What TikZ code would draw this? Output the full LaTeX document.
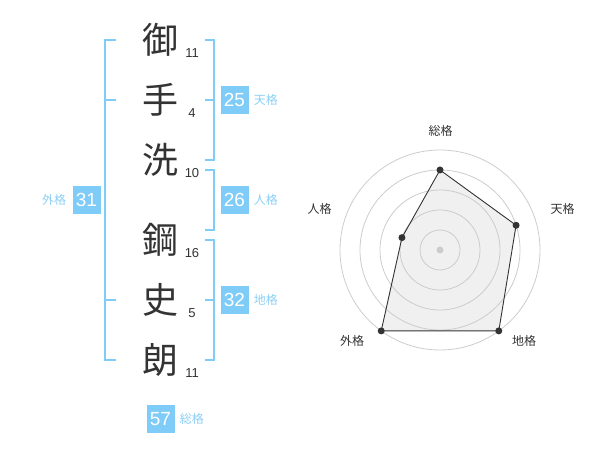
\documentclass[tikz,border=0pt]{standalone}
\usepackage{fontspec}
\setmainfont{Liberation Sans}
\newfontfamily\jpfont{Noto Sans CJK JP}
\usepackage{xcolor}
\usetikzlibrary{
		calc,
		positioning
	}
\definecolor{sky}{HTML}{80CCF8}
\definecolor{skytext}{HTML}{8CCFF5}
\definecolor{ink}{HTML}{333333}
\tikzset{
		>=stealth,
		kanji/.style={text=ink,font=\jpfont\fontsize{36}{36}\selectfont,inner sep=0pt},
		strokes/.style={text=ink,font=\fontsize{13}{13}\selectfont,inner sep=0pt},
		score/.style={fill=sky,text=white,minimum size=28pt,inner sep=0pt,font=\fontsize{19}{19}\selectfont},
		kaku/.style={text=skytext,font=\jpfont\fontsize{12}{12}\selectfont,inner sep=0pt},
		bracket/.style={draw=sky,line width=2pt},
		ring/.style={draw=black!20,line width=0.8pt},
		axislabel/.style={text=ink,font=\jpfont\fontsize{12}{12}\selectfont,inner sep=0pt},
		dot/.style={circle,fill=ink,inner sep=0pt,minimum size=7pt}
	}
\begin{document}
\begin{tikzpicture}[x=1pt,y=-1pt]
          \useasboundingbox (0,0) rectangle (600,470);

          % name and stroke counts
          \node[kanji] (K1) at (160,40) {御};
          \node[kanji] (K2) at (160,100) {手};
          \node[kanji] (K3) at (160,160) {洗};
          \node[kanji] (K4) at (160,240) {鋼};
          \node[kanji] (K5) at (160,300) {史};
          \node[kanji] (K6) at (160,360) {朗};

          \node[strokes] (S1) at (192,53) {11};
          \node[strokes] (S2) at (192,113) {4};
          \node[strokes] (S3) at (192,173) {10};
          \node[strokes] (S4) at (192,253) {16};
          \node[strokes] (S5) at (192,313) {5};
          \node[strokes] (S6) at (192,373) {11};

          % brackets
          \coordinate (L1) at (105,40);
          \coordinate (L2) at (105,360);
          \draw[bracket] ($(L1)+(11,0)$) -- (L1) -- (L2) -- ($(L2)+(11,0)$);
          \draw[bracket] (105,100) -- (116,100);
          \draw[bracket] (105,300) -- (116,300);

          \coordinate (T1) at (214,40);
          \coordinate (T2) at (214,160);
          \draw[bracket] ($(T1)+(-9,0)$) -- (T1) -- (T2) -- ($(T2)+(-9,0)$);
          \draw[bracket] (205,100) -- (214,100);

          \coordinate (J1) at (214,170);
          \coordinate (J2) at (214,230);
          \draw[bracket] ($(J1)+(-9,0)$) -- (J1) -- (J2) -- ($(J2)+(-9,0)$);

          \coordinate (C1) at (214,240);
          \coordinate (C2) at (214,360);
          \draw[bracket] ($(C1)+(-9,0)$) -- (C1) -- (C2) -- ($(C2)+(-9,0)$);
          \draw[bracket] (205,300) -- (214,300);

          % scores
          \node[score] (Ten) at (234.5,100) {25};
          \node[kaku,right=5pt of Ten] (TenL) {天格};
          \node[score] (Jin) at (234.5,200) {26};
          \node[kaku,right=5pt of Jin] (JinL) {人格};
          \node[score] (Chi) at (234.5,300) {32};
          \node[kaku,right=5pt of Chi] (ChiL) {地格};
          \node[score] (Gai) at (86.5,200) {31};
          \node[kaku,left=6pt of Gai] (GaiL) {外格};
          \node[score] (Sou) at (160.5,419) {57};
          \node[kaku,right=5pt of Sou] (SouL) {総格};

          % radar chart
          \coordinate (O) at (440,250);
          \coordinate (P1) at ($(O)+(-90:80)$);
          \coordinate (P2) at ($(O)+(-18:80)$);
          \coordinate (P3) at ($(O)+(54:100)$);
          \coordinate (P4) at ($(O)+(126:100)$);
          \coordinate (P5) at ($(O)+(198:40)$);

          \fill[black!6] (P1) -- (P2) -- (P3) -- (P4) -- (P5) -- cycle;
          \foreach \r in {20,40,...,100}
            \draw[ring] (O) circle [radius=\r];
          \fill[black!20] (O) circle [radius=3.5];
          \draw[ink,line width=0.9pt] (P1) -- (P2) -- (P3) -- (P4) -- (P5) -- cycle;
          \foreach \p in {P1,P2,P3,P4,P5}
            \node[dot] at (\p) {};

          \node[axislabel] (A1) at (440.5,130.5) {総格};
          \node[axislabel] (A2) at (562.5,208.5) {天格};
          \node[axislabel] (A3) at (524,340.5) {地格};
          \node[axislabel] (A4) at (352,340.5) {外格};
          \node[axislabel] (A5) at (319.5,208.5) {人格};

          \end{tikzpicture}
\end{document}
